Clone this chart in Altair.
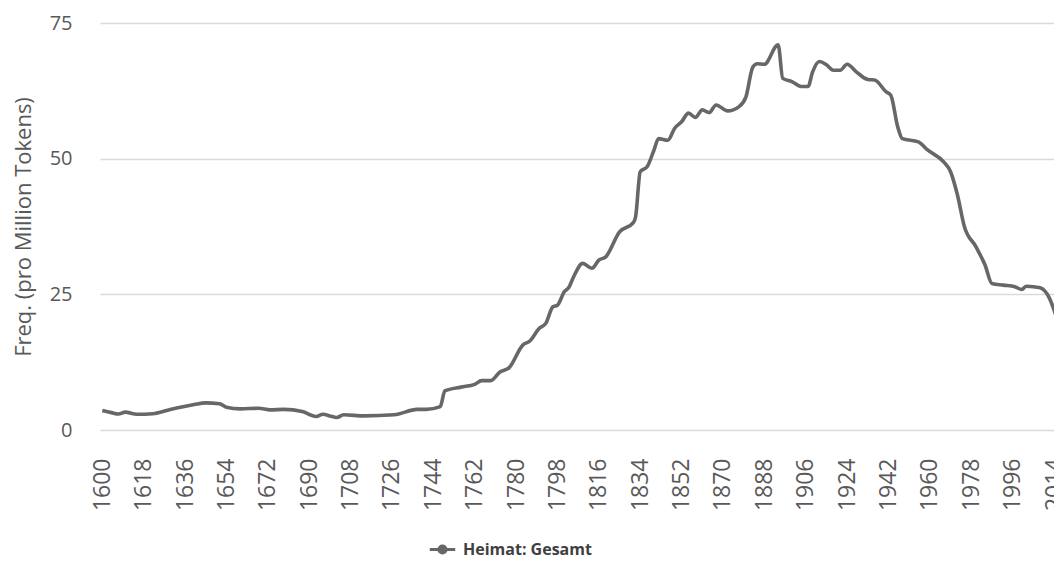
import altair as alt
import pandas as pd

years = [1600, 1604, 1607, 1610, 1615, 1622, 1628, 1634, 1640, 1645, 1651, 1654,
         1660, 1668, 1673, 1679, 1687, 1693, 1696, 1699, 1702, 1705, 1714, 1727,
         1737, 1741, 1747, 1749, 1756, 1762, 1765, 1769, 1773, 1777, 1783, 1786,
         1790, 1793, 1796, 1798, 1801, 1803, 1805, 1809, 1813, 1816, 1819, 1825,
         1831, 1832, 1834, 1837, 1840, 1842, 1846, 1849, 1852, 1855, 1858, 1861,
         1864, 1867, 1872, 1877, 1880, 1883, 1885, 1888, 1894, 1896, 1900, 1904,
         1907, 1909, 1912, 1915, 1918, 1921, 1924, 1928, 1933, 1936, 1941, 1943,
         1946, 1948, 1955, 1959, 1966, 1969, 1972, 1975, 1980, 1984, 1987, 1992,
         1997, 2000, 2002, 2008, 2012, 2015]
values = [3.6, 3.2, 2.95, 3.3, 2.9, 3.0, 3.6, 4.2, 4.7, 5.0, 4.85, 4.2,
          3.9, 4.0, 3.7, 3.8, 3.4, 2.5, 2.9, 2.6, 2.3, 2.8, 2.6, 2.8,
          3.8, 3.8, 4.3, 7.2, 7.9, 8.4, 9.1, 9.1, 10.7, 11.5, 15.7, 16.4,
          18.7, 19.7, 22.7, 23.0, 25.5, 26.3, 28.2, 30.7, 29.8, 31.3, 31.9, 36.5,
          38.2, 39.3, 47.6, 48.5, 51.6, 53.7, 53.4, 55.6, 56.8, 58.4, 57.6, 59.0,
          58.5, 59.9, 58.8, 59.6, 61.4, 66.9, 67.5, 67.4, 71.0, 64.8, 64.2, 63.3,
          63.3, 66.0, 67.9, 67.3, 66.3, 66.3, 67.4, 66.0, 64.6, 64.5, 62.3, 61.7,
          55.9, 53.7, 53.1, 51.6, 49.4, 47.6, 43.3, 37.5, 33.8, 30.4, 27.0, 26.7,
          26.4, 25.9, 26.5, 26.2, 24.3, 20.9]
series_name = "Heimat: Gesamt"
x_ticks = list(range(1600, 2015, 18))
y_ticks = [0, 25, 50, 75]

df = pd.DataFrame({"Jahr": years, "Freq": values, "Serie": series_name})

FONT = "Open Sans"
GRAY = "#595959"
LINE = "#676767"

legend_symbol = "M-1,0L1,0M-0.28,0A0.28,0.28 0 1,1 0.28,0A0.28,0.28 0 1,1 -0.28,0Z"

chart = (
    alt.Chart(df)
    .mark_line(strokeWidth=3.6, interpolate="monotone", clip=True)
    .encode(
        x=alt.X(
            "Jahr:Q",
            scale=alt.Scale(domain=[1599, 2014], nice=False, zero=False),
            axis=alt.Axis(
                values=x_ticks,
                format="d",
                labelAngle=270,
                labelFontSize=23,
                labelColor=GRAY,
                labelFont=FONT,
                labelPadding=28,
                ticks=False,
                tickSize=0,
                domain=False,
                grid=False,
                title=None,
                labelOverlap=False,
                labelFlush=False,
            ),
        ),
        y=alt.Y(
            "Freq:Q",
            scale=alt.Scale(domain=[0, 75], nice=False),
            axis=alt.Axis(
                values=y_ticks,
                labelFontSize=20,
                labelColor=GRAY,
                labelFont=FONT,
                labelPadding=28,
                ticks=False,
                tickSize=0,
                domain=False,
                grid=True,
                gridColor="#d9d9d9",
                gridWidth=1.5,
                title="Freq. (pro Million Tokens)",
                titleFont=FONT,
                titleFontSize=22,
                titleFontWeight="normal",
                titleColor=GRAY,
                titlePadding=14,
            ),
        ),
        color=alt.Color(
            "Serie:N",
            scale=alt.Scale(range=[LINE]),
            legend=alt.Legend(
                title=None,
                orient="none",
                legendX=328,
                legendY=512,
                direction="horizontal",
                symbolType=legend_symbol,
                symbolSize=650,
                symbolStrokeWidth=3,
                symbolFillColor=LINE,
                labelFont=FONT,
                labelFontSize=16,
                labelFontWeight="bold",
                labelColor="#404040",
                labelOffset=6,
            ),
        ),
    )
    .properties(
        width=954,
        height=407,
        autosize=alt.AutoSizeParams(type="none"),
        padding={"left": 92, "top": 15, "right": 0, "bottom": 140},
    )
    .configure_view(stroke=None)
)

chart.save("out.html", embed_options={"renderer": "svg", "actions": False})
